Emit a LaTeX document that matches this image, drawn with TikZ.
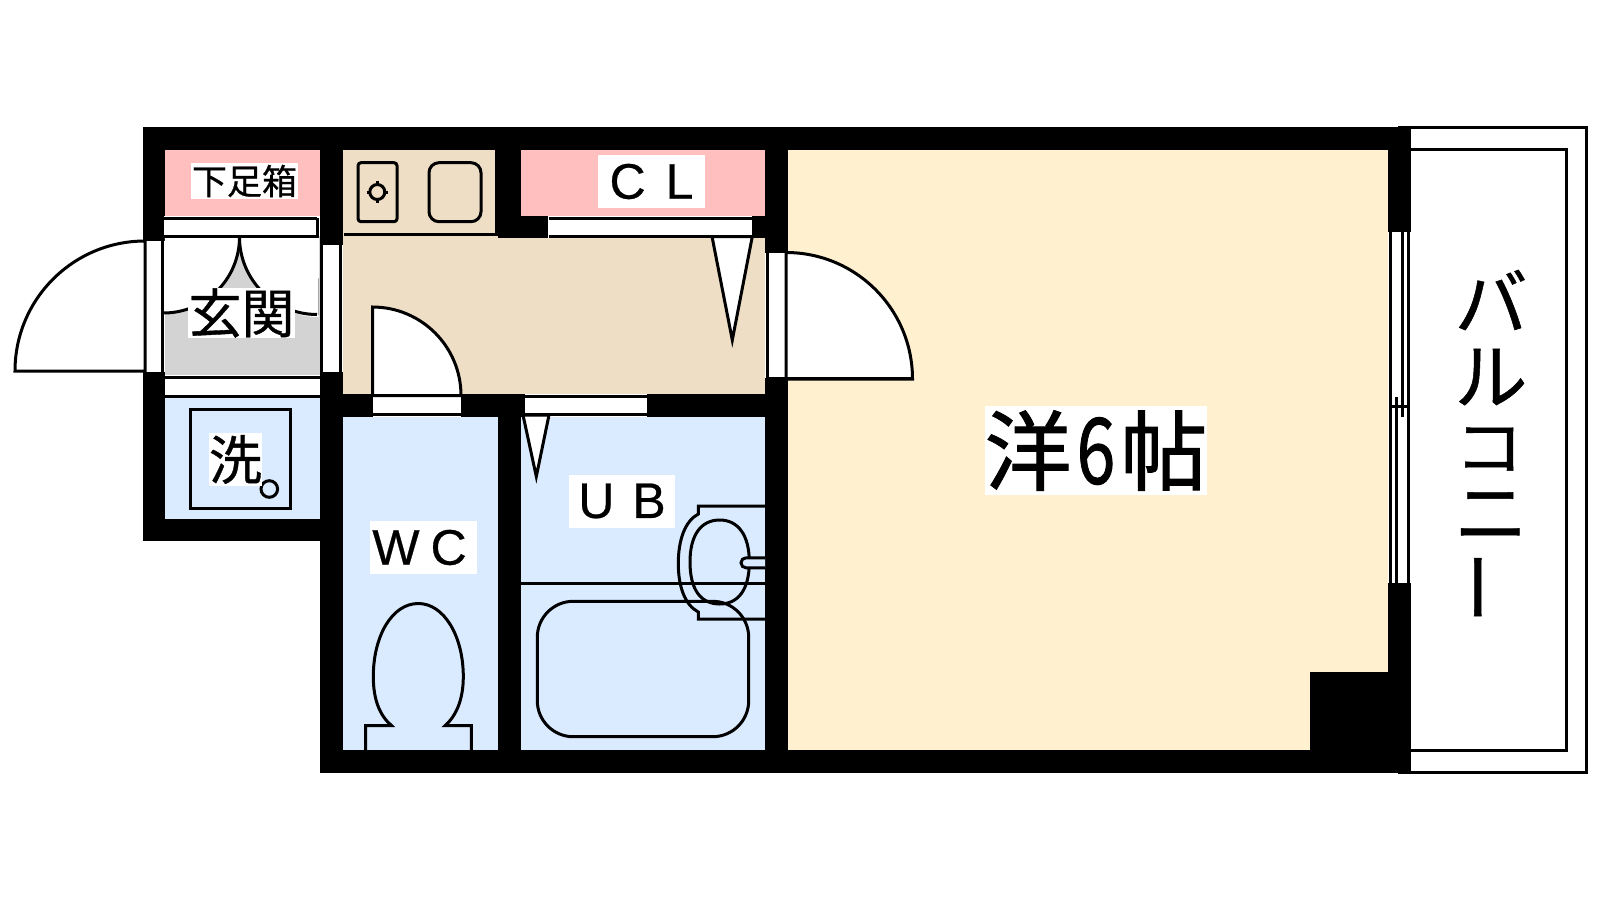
\documentclass[tikz,border=0pt]{standalone}
\usepackage{fontspec}
\setmainfont[FakeBold=0.7]{Noto Sans CJK JP}
\newfontfamily\latinf[FakeBold=0.5]{Liberation Sans}
\newfontfamily\roomf[FakeBold=1.2]{Noto Sans CJK JP}
\definecolor{pinkc}{HTML}{FFBFBF}
\definecolor{tanc}{HTML}{EEDEC5}
\definecolor{bluec}{HTML}{DBEBFF}
\definecolor{creamc}{HTML}{FFF0D0}
\definecolor{grayc}{HTML}{D3D3D3}
\tikzset{
  wall/.style={fill=black,draw=none},
  ln/.style={draw=black,line width=3pt},
  thin ln/.style={draw=black,line width=2.4pt},
  whitefill/.style={fill=white,draw=none},
  lab/.style={fill=white,inner sep=0pt,align=center,anchor=center},
  vchar/.style={inner sep=0pt,font=\fontsize{73}{73}\selectfont},
}
\begin{document}
\begin{tikzpicture}[x=1pt,y=-1pt]
\useasboundingbox (0,0) rectangle (1600,900);
\fill[white] (0,0) rectangle (1600,900);
% floor fills
\fill[pinkc] (165,150) rectangle (320,216);
\fill[pinkc] (521,150) rectangle (765,216);
\fill[tanc] (343,150) rectangle (498,240);
\fill[tanc] (343,238) rectangle (765,394);
\fill[bluec] (165,397) rectangle (320,519);
\fill[bluec] (343,417) rectangle (498,750);
\fill[bluec] (521,417) rectangle (765,750);
\fill[creamc] (788,150) rectangle (1388,750);
\fill[grayc] (165,236) rectangle (320,375);
% walls
\fill[wall] (143,127) rectangle (1411,150);
\fill[wall] (143,127) rectangle (165,241);
\fill[wall] (143,372) rectangle (165,541);
\fill[wall] (143,519) rectangle (343,541);
\fill[wall] (320,127) rectangle (343,245);
\fill[wall] (320,372) rectangle (343,773);
\fill[wall] (343,394) rectangle (765,417);
\fill[wall] (498,127) rectangle (521,238);
\fill[wall] (498,216) rectangle (548,238);
\fill[wall] (752,216) rectangle (788,238);
\fill[wall] (765,127) rectangle (788,253);
\fill[wall] (765,378) rectangle (788,773);
\fill[wall] (498,394) rectangle (521,773);
\fill[wall] (320,750) rectangle (1411,773);
\fill[wall] (1388,127) rectangle (1411,232);
\fill[wall] (1388,583) rectangle (1411,773);
\fill[wall] (1310,672) rectangle (1411,773);
% balcony
\draw[ln] (1398,127) -- (1586.5,127) -- (1586.5,772) -- (1398,772);
\draw[ln] (1411,149.5) -- (1566.5,149.5) -- (1566.5,750.5) -- (1411,750.5);
% window
\fill[whitefill] (1388,232) rectangle (1411,583);
\draw[ln] (1390,232) -- (1390,583);
\draw[ln] (1408.5,232) -- (1408.5,583);
\draw[ln] (1402.5,232) -- (1402.5,417);
\draw[ln] (1396.5,397) -- (1396.5,583);
\draw[thin ln] (1390,406.5) -- (1408.5,406.5);
% entry door
\fill[whitefill] (143,241) rectangle (165,372);
\draw[ln,fill=white] (145,241) arc (270:180:130) -- (145,371) -- cycle;
\draw[ln] (162.5,241) -- (162.5,372);
% entry hall
\fill[whitefill] (164,216) rectangle (320,236);
\draw[ln] (163,218) -- (317,218);
\draw[ln] (163,236.5) -- (317,236.5);
\draw[ln] (317,218) -- (317,315);
\fill[whitefill] (165,238) -- (239.5,238) arc (0:90:75.5) -- cycle;
\fill[whitefill] (319,238) -- (239.5,238) arc (180:90:79) -- cycle;
\draw[ln] (239.5,237) arc (0:90:76);
\draw[ln] (239.5,237) arc (180:90:77.5);
% shoe strip / laundry strip
\fill[whitefill] (165,375) rectangle (320,397);
\draw[ln] (165,377.5) -- (320,377.5);
\draw[ln] (165,396.5) -- (320,396.5);
% door to kitchen at entry
\fill[whitefill] (322,245) rectangle (341,372);
\draw[ln] (321.7,245) -- (321.7,372);
\draw[ln] (340.7,245) -- (340.7,372);
% kitchen counter
\draw[ln] (344,234) -- (496.5,234) -- (496.5,150);
\draw[ln,rounded corners=3pt] (358,162.7) rectangle (397,221.7);
\draw[ln] (377.3,181) -- (377.3,203);
\draw[ln] (366.5,192) -- (388,192);
\draw[ln,fill=tanc] (377.3,192) circle (7.5);
\draw[ln,rounded corners=10pt] (429,162.7) rectangle (481,221.7);
% CL strip
\fill[whitefill] (548.5,216) rectangle (752,238);
\draw[ln] (548.5,218) -- (752,218);
\draw[ln] (548.5,236.5) -- (752,236.5);
\draw[ln,fill=white] (712,236.5) -- (752.3,236.5) -- (732.3,340) -- cycle;
% room door
\fill[whitefill] (765,253) rectangle (788,378);
\draw[ln,fill=white] (786,252.5) arc (-90:0:126.5) -- (786,379) -- cycle;
\draw[ln] (767.5,252.5) -- (767.5,378) -- (913,378);
% WC door
\fill[whitefill] (373,394) rectangle (461,417);
\draw[ln,fill=white] (372.5,307) arc (-90:0:88.5) -- (372.5,395.5) -- cycle;
\draw[ln] (372.5,414.5) -- (461,414.5);
% UB door
\fill[whitefill] (524.5,394) rectangle (647,417);
\draw[ln] (524.5,396) -- (647,396);
\draw[ln] (524.5,414.5) -- (647,414.5);
\draw[ln,fill=white] (523,415) -- (549,415) -- (536.3,476.5) -- cycle;
% washer
\draw[line width=3pt] (190,409.3) rectangle (290,508.7);
\draw[ln] (269.3,489) circle (8.3);
% toilet
\begin{scope}
\clip (343,417) rectangle (498,750);
\draw[ln] (365.5,751) -- (365.5,725.7) -- (391.7,725.7)
  .. controls (380,716) and (373.3,700) .. (373.3,676.7)
  .. controls (373.3,636) and (392,603.5) .. (418.3,603.5)
  .. controls (444,603.5) and (463.3,636) .. (463.3,676.7)
  .. controls (463.3,700) and (456,716) .. (445,725.7)
  -- (471.3,725.7) -- (471.3,751);
\end{scope}
% bath
\draw[ln] (521,583.3) -- (765,583.3);
\draw[ln,rounded corners=36pt] (537.3,601.3) rectangle (748.7,736.7);
\draw[ln] (765,506) -- (698.3,506) -- (698.3,514)
  .. controls (685,521) and (678.3,540) .. (678.3,563.3)
  .. controls (678.3,587) and (685,605) .. (698.3,612)
  -- (698.3,619) -- (765,619);
\draw[ln] (719.7,520)
  .. controls (738,520) and (749.3,535) .. (749.3,562)
  .. controls (749.3,590) and (738,604) .. (719.7,604)
  .. controls (701,604) and (690,590) .. (690,562)
  .. controls (690,535) and (701,520) .. (719.7,520) -- cycle;
\draw[ln,fill=bluec] (765,557.8) -- (746,557.8) arc (-90:-270:5) -- (765,567.8);
% labels
\node[lab,minimum width=107pt,minimum height=36pt,font=\fontsize{35}{35}\selectfont] (shoe) at (244.5,181) {下足箱};
\node[lab,minimum width=107pt,minimum height=50pt,font=\fontsize{53}{53}\selectfont] (hall) at (241.5,313) {玄関};
\node[lab,minimum width=53pt,minimum height=53pt,font=\fontsize{53}{53}\selectfont] (wash) at (235.5,459.5) {洗};
\node[lab,minimum width=107pt,minimum height=53pt,font=\fontsize{50}{50}\selectfont\latinf] (wc) at (423.5,547.5) {W\hspace{11pt}C\hspace{8pt}};
\node[lab,minimum width=107pt,minimum height=53pt,font=\fontsize{50}{50}\selectfont\latinf] (cl) at (651.5,181.5) {C\hspace{20pt}L};
\node[lab,minimum width=106pt,minimum height=53pt,font=\fontsize{50}{50}\selectfont\latinf] (ub) at (622,501) {U\hspace{18pt}B};
\node[lab,minimum width=222pt,minimum height=89pt,font=\fontsize{87}{87}\selectfont\roomf] (room) at (1096,450.5) {洋\hspace{5pt}\scalebox{0.8}[1.05]{6}\hspace{5pt}帖};
\node[vchar] (b1) at (1491,300) {バ};
\node[vchar] (b2) at (1491,377) {ル};
\node[vchar] (b3) at (1489,449) {\scalebox{0.95}[0.85]{コ}};
\node[vchar] (b4) at (1491,516) {ニ};
\node[vchar,rotate=90] (b5) at (1490,587) {ー};
\end{tikzpicture}
\end{document}
